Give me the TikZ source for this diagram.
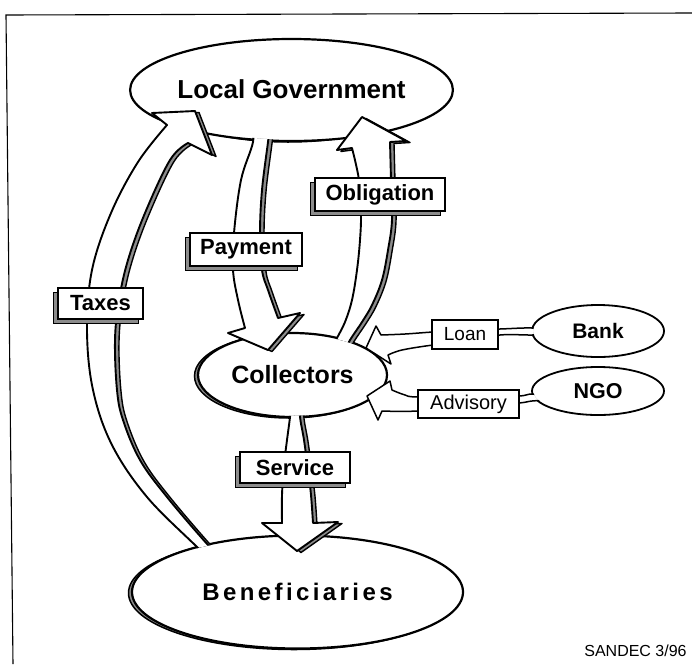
\documentclass[tikz,border=0pt]{standalone}
\usepackage{fontspec}
\setmainfont{Liberation Sans}
\usetikzlibrary{shapes.geometric}
\begin{document}
\begin{tikzpicture}[x=1pt,y=-1pt,
  ell/.style={ellipse, draw=black, fill=white, line width=2.2pt, inner sep=0pt, outer sep=0pt},
  smallell/.style={ellipse, draw=black, fill=white, line width=1.8pt, inner sep=0pt, outer sep=0pt},
  eshadow/.style={fill=black!45, draw=black, line width=1.5pt},
  bshadow/.style={fill=black!45, draw=black, line width=1.4pt},
  lab/.style={rectangle, draw=black, fill=white, line width=1.8pt, inner sep=0pt, outer sep=0pt, font=\fontsize{22}{24}\selectfont\bfseries},
  plainlab/.style={rectangle, draw=black, fill=white, line width=1.5pt, inner sep=0pt, outer sep=0pt},
  ashadow/.style={fill=black!45, draw=black, line width=1.4pt, line join=round},
  abody/.style={fill=white, draw=black, line width=1.9pt, line join=round},
  athin/.style={fill=white, draw=black, line width=1.5pt, line join=round},
]
\useasboundingbox (0,0) rectangle (692,664);

\newcommand\outsideclip[4]{\clip (-50,-50) -- (-50,720) -- (750,720) -- (750,-50) -- cycle ({#1+#3},#2) arc[start angle=0, end angle=360, x radius=#3, y radius=#4];}
\newcommand\boxshadow[4]{\filldraw[bshadow] ({#1-#3/2-4.5},{#2-#4/2+4.5}) rectangle ({#1+#3/2-4.5},{#2+#4/2+4.5});}

\def\taxespath{plot[smooth, tension=0.6] coordinates {(218,568) (197,547) (147,497) (112,445) (93,390) (87,330) (92,270) (111,213) (138,162) (167,125)} -- (152,113) -- (195,111) -- (212,155) -- (188,143) -- plot[smooth, tension=0.6] coordinates {(188,143) (170,160) (145,213) (128,260) (119,300) (115,340) (117,390) (123,420) (140,460) (167,497) (208,545) (228,565)} -- cycle}
\def\paypath{plot[smooth,tension=0.6] coordinates {(251,125) (253,142) (241,180) (234,233) (233,270) (238,300) (245,328)} -- (228,333) -- (268,350) -- (300,313) -- (278,318) -- plot[smooth,tension=0.6] coordinates {(278,318) (268,290) (262,270) (260,233) (262,190) (268,142) (270,125)} -- cycle}
\def\oblpath{plot[smooth,tension=0.6] coordinates {(330,352) (337,338) (345,322) (352,300) (357,270) (360,240) (361,213) (359,180) (352,148)} -- (337,150) -- (362,117) -- (406,141) -- (390,142) -- plot[smooth,tension=0.6] coordinates {(390,142) (391,180) (392,220) (388,250) (382,280) (372,305) (362,322) (350,340) (344,352)} -- cycle}
\def\servpath{plot[smooth,tension=0.6] coordinates {(291,402) (290,417) (287,440) (284,465) (282,495) (282,523)} -- (262,523) -- (297,551) -- (338,522) -- (313,523) -- plot[smooth,tension=0.6] coordinates {(313,523) (311,495) (308,470) (304,440) (300,417) (300,402)} -- cycle}
\def\loanpath{plot[smooth,tension=0.6] coordinates {(550,331) (532,328) (500,329) (470,330) (433,332) (405,334) (381,335)} -- (376,326) -- (366,348) -- (391,364) -- (388,355) -- plot[smooth,tension=0.6] coordinates {(388,355) (402,350) (433,345) (470,341) (500,335) (532,335) (550,334)} -- cycle}
\def\advpath{plot[smooth,tension=0.6] coordinates {(550,396) (532,394) (519,396) (480,397) (418,397) (405,395) (392,390)} -- (390,381) -- (367,396) -- (378,420) -- (382,411) -- plot[smooth,tension=0.6] coordinates {(382,411) (418,411) (480,406) (519,403) (532,401) (550,400)} -- cycle}

% frame
\draw[line width=1.1pt] (13,664) -- (6,15) -- (692,13);

% ellipses
\filldraw[eshadow] (288,91) ellipse [x radius=138.5, y radius=51];
\node[ell, minimum width=277pt, minimum height=102pt, font=\fontsize{26}{28}\selectfont\bfseries] (lg) at (291.5,90) {\raisebox{2pt}{Local Government}};
\filldraw[eshadow] (289,376) ellipse [x radius=94.5, y radius=42];
\node[ell, minimum width=189pt, minimum height=84pt, font=\fontsize{25}{27}\selectfont\bfseries] (coll) at (292.5,375) {Collectors};
\filldraw[eshadow] (294,593) ellipse [x radius=165.5, y radius=56.5];
\node[ell, minimum width=331pt, minimum height=113pt, font=\fontsize{24}{26}\selectfont\bfseries] (ben) at (297.5,592) {B\kern3.4pt e\kern3.4pt n\kern3.4pt e\kern3.4pt f\kern3.4pt i\kern3.4pt c\kern3.4pt i\kern3.4pt a\kern3.4pt r\kern3.4pt i\kern3.4pt e\kern3.4pt s};
\node[smallell, minimum width=132pt, minimum height=52pt, font=\fontsize{21}{23}\selectfont\bfseries] (bank) at (598,331) {Bank};
\node[smallell, minimum width=132pt, minimum height=48pt, font=\fontsize{21.5}{23}\selectfont\bfseries] (ngo) at (598,391) {NGO};

% block arrows
\begin{scope}[even odd rule]
\outsideclip{297.5}{592}{164.3}{55.3}
\filldraw[ashadow, shift={(4,1.5)}] \taxespath;
\filldraw[abody] \taxespath;
\end{scope}
\begin{scope}[even odd rule]
\outsideclip{291.5}{90}{137.3}{49.8}
\filldraw[ashadow, shift={(4,1.5)}] \paypath;
\filldraw[abody] \paypath;
\end{scope}
\begin{scope}[even odd rule]
\outsideclip{292.5}{375}{93.3}{40.8}
\filldraw[ashadow, shift={(4,1.5)}] \oblpath;
\filldraw[abody] \oblpath;
\end{scope}
\begin{scope}[even odd rule]
\outsideclip{292.5}{375}{93.3}{40.8}
\filldraw[ashadow, shift={(4,1.5)}] \servpath;
\filldraw[abody] \servpath;
\end{scope}
\begin{scope}[even odd rule]
\outsideclip{598}{331}{64.8}{24.8}
\filldraw[athin] \loanpath;
\end{scope}
\begin{scope}[even odd rule]
\outsideclip{598}{391}{64.8}{22.8}
\filldraw[athin] \advpath;
\end{scope}

% labels
\boxshadow{100.5}{303.5}{85}{31}
\node[lab, minimum width=85pt, minimum height=31pt] (taxes) at (100.5,303.5) {Taxes};
\boxshadow{246}{249.5}{112}{33}
\node[lab, minimum width=112pt, minimum height=33pt] (payment) at (246,249.5) {Payment};
\boxshadow{380}{194.5}{130}{33}
\node[lab, minimum width=130pt, minimum height=33pt] (obligation) at (380,194.5) {Obligation};
\boxshadow{295}{467.5}{110}{31}
\node[lab, minimum width=110pt, minimum height=31pt] (service) at (295,467.5) {Service};
\node[plainlab, minimum width=66pt, minimum height=29pt, font=\fontsize{19}{21}\selectfont] (loan) at (465,334.5) {Loan};
\node[plainlab, minimum width=101pt, minimum height=28pt, font=\fontsize{20}{22}\selectfont] (advisory) at (468.5,404) {Advisory};

\node[font=\fontsize{16}{18}\selectfont, inner sep=0pt] (sandec) at (635.5,651) {SANDEC 3/96};
\end{tikzpicture}
\end{document}
